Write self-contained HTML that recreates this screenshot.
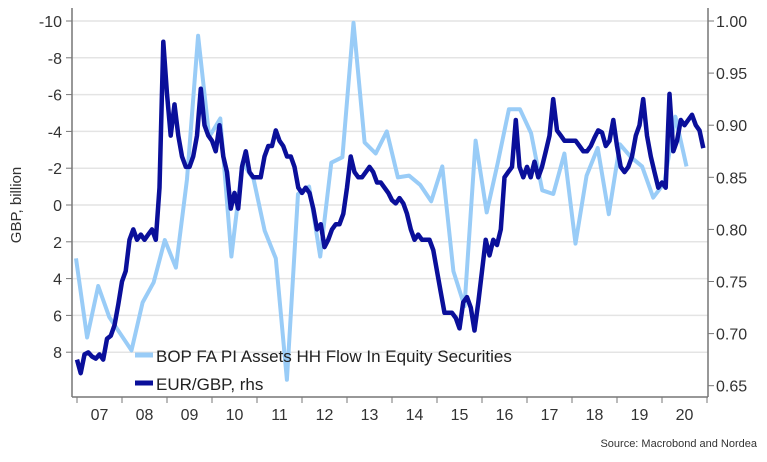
<!DOCTYPE html>
<html><head><meta charset="utf-8"><style>
body{margin:0;background:#fff;}
svg{display:block;font-family:"Liberation Sans",sans-serif;}
</style></head><body>
<svg id="chart" width="767" height="462" viewBox="0 0 767 462">
<g id="grid"></g>
<g id="axes"></g>
<g id="series"></g>
<g id="legend">
  <line x1="135" y1="355" x2="153" y2="355" stroke="#99ccf7" stroke-width="5"/>
  <text x="156" y="362" font-size="17" fill="#222">BOP FA PI Assets HH Flow In Equity Securities</text>
  <line x1="135" y1="383" x2="153" y2="383" stroke="#0a0f9a" stroke-width="5"/>
  <text x="156" y="390" font-size="17" fill="#222">EUR/GBP, rhs</text>
</g>
<text transform="translate(21,205) rotate(-90)" text-anchor="middle" font-size="15" fill="#333">GBP, billion</text>
<text x="757" y="447" text-anchor="end" font-size="11" fill="#333">Source: Macrobond and Nordea</text>
</svg>
<script>
const leftTicks=[-10,-8,-6,-4,-2,0,2,4,6,8];
const rightTicks=[1.00,0.95,0.90,0.85,0.80,0.75,0.70,0.65];
const yearLabels=["07","08","09","10","11","12","13","14","15","16","17","18","19","20"];
const bopValues=[2.9,7.2,4.4,6.1,7.0,7.9,5.3,4.2,1.9,3.4,-1.4,-9.2,-3.7,-4.7,2.8,-2.3,-1.4,1.4,2.9,9.5,-0.6,-1.0,2.8,-2.3,-2.6,-9.9,-3.4,-2.8,-4.0,-1.5,-1.6,-1.1,-0.2,-2.1,3.6,5.5,-3.5,0.4,-2.3,-5.2,-5.2,-3.9,-0.8,-0.6,-2.8,2.1,-1.6,-3.1,0.5,-3.3,-2.6,-2.1,-0.4,-1.2,-4.8,-2.1];
const fxStart=2007.0;
const fxValues=[
0.675,0.662,0.680,0.682,0.678,0.676,0.680,0.675,0.695,0.698,0.708,0.728,
0.750,0.760,0.790,0.800,0.790,0.795,0.790,0.795,0.800,0.790,0.840,0.980,
0.930,0.890,0.920,0.890,0.870,0.860,0.860,0.870,0.890,0.935,0.900,0.890,
0.885,0.875,0.900,0.870,0.855,0.820,0.835,0.820,0.860,0.875,0.855,0.850,
0.850,0.850,0.870,0.880,0.880,0.895,0.885,0.880,0.870,0.870,0.860,0.840,
0.835,0.840,0.835,0.820,0.800,0.805,0.783,0.790,0.800,0.805,0.805,0.815,
0.840,0.870,0.855,0.850,0.850,0.855,0.860,0.855,0.845,0.845,0.840,0.835,
0.828,0.825,0.830,0.825,0.815,0.800,0.790,0.795,0.790,0.790,0.790,0.780,
0.760,0.740,0.720,0.720,0.720,0.715,0.705,0.730,0.735,0.725,0.703,0.730,
0.760,0.790,0.775,0.790,0.785,0.800,0.850,0.855,0.860,0.905,0.860,0.850,
0.860,0.850,0.865,0.850,0.860,0.875,0.890,0.925,0.895,0.890,0.885,0.885,
0.885,0.885,0.880,0.875,0.875,0.880,0.888,0.895,0.893,0.880,0.885,0.905,
0.880,0.860,0.855,0.860,0.870,0.890,0.900,0.925,0.890,0.870,0.855,0.840,
0.845,0.840,0.930,0.875,0.885,0.905,0.900,0.905,0.910,0.900,0.895,0.878];
const X0=72,X1=708;
function xs(t){return 77+(t-2007)*45;}
function xq(i){return 76+i*11.1;}
function yl(v){return 205+v*18.4;}
function yr(r){return 21+(1-r)*1042;}
const NS="http://www.w3.org/2000/svg";
function mk(tag,attrs,parent){const e=document.createElementNS(NS,tag);for(const k in attrs)e.setAttribute(k,attrs[k]);parent.appendChild(e);return e;}
const grid=document.getElementById('grid'),axes=document.getElementById('axes'),series=document.getElementById('series');
leftTicks.forEach(v=>{
  const y=yl(v);
  const g=mk('line',{x1:X0,x2:X1,y1:y,y2:y,stroke:'#e4e4e4','stroke-width':1.5},grid);
  
  
  const t=mk('line',{x1:66,x2:X0,y1:y,y2:y,stroke:'#777','stroke-width':1},axes);
  
  
  const l=mk('text',{x:62,y:y+6,'text-anchor':'end','font-size':16,fill:'#333'},axes);
  l.textContent=v;
  
  
});
rightTicks.forEach(r=>{
  const y=yr(r);
  const t=mk('line',{x1:X1,x2:X1+6,y1:y,y2:y,stroke:'#777','stroke-width':1},axes);
  
  
  const l=mk('text',{x:716,y:y+6,'font-size':16,fill:'#333'},axes);
  l.textContent=r.toFixed(2);
  
  
});
let a=mk('line',{x1:X0,x2:X0,y1:8,y2:397,stroke:'#777','stroke-width':1.5},axes);


a=mk('line',{x1:X1,x2:X1,y1:8,y2:397,stroke:'#777','stroke-width':1.5},axes);


a=mk('line',{x1:X0,x2:X1,y1:397,y2:397,stroke:'#777','stroke-width':1.5},axes);


for(let i=0;i<=yearLabels.length;i++){
  const x=xs(2007+i);
  const t=mk('line',{x1:x,x2:x,y1:397,y2:403,stroke:'#777','stroke-width':1},axes);
  
  
}
yearLabels.forEach((s,i)=>{
  const l=mk('text',{x:xs(2007.5+i),y:420,'text-anchor':'middle','font-size':16,fill:'#333'},axes);
  l.textContent=s;
  
  
});
const bopPts=bopValues.map((v,i)=>xq(i).toFixed(1)+','+yl(v).toFixed(1)).join(' ');
const p1=mk('polyline',{points:bopPts,fill:'none',stroke:'#99ccf7','stroke-width':4,'stroke-linejoin':'round'},series);


const fxPts=fxValues.map((v,i)=>xs(fxStart+i/12).toFixed(1)+','+yr(v).toFixed(1)).join(' ');
const p2=mk('polyline',{points:fxPts,fill:'none',stroke:'#0a0f9a','stroke-width':4.5,'stroke-linejoin':'round'},series);


</script>
</body></html>
